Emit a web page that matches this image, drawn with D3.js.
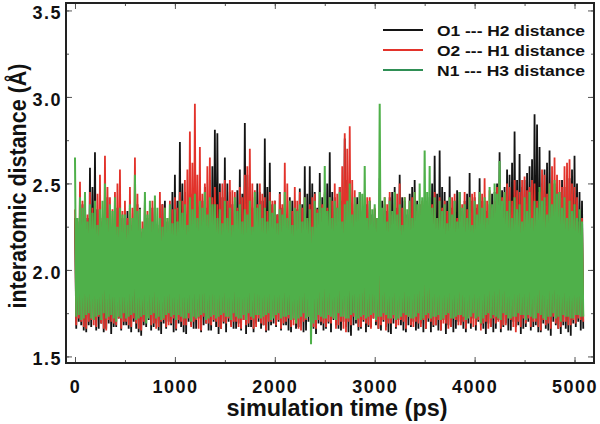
<!DOCTYPE html>
<html>
<head>
<meta charset="utf-8">
<script src="https://cdn.jsdelivr.net/npm/d3@7/dist/d3.min.js"></script>
<style>
  body { margin: 0; background: #fff; }
  text { font-family: "Liberation Sans", Arial, sans-serif; font-weight: bold; fill: #111; }
</style>
</head>
<body>
<svg id="chart" width="600" height="424"></svg>
<script>
// sampling interval of the trajectory (ps)
const step = 12.5;

const seriesNames = ["O1 --- H2 distance", "O2 --- H1 distance", "N1 --- H3 distance"];
const xTicks = [0, 1000, 2000, 3000, 4000, 5000];
const yTicks = [1.5, 2.0, 2.5, 3.0, 3.5];

// O1---H2 : local maxima / minima, one row per 500 ps
const o1h2Peaks = [
  2.30,2.22,2.35,2.38,2.45,2.30,2.59,2.48,2.68,2.35,2.40,2.28,2.35,2.42,2.28,2.25,2.33,2.36,2.38,2.30,
  2.25,2.34,2.40,2.26,2.30,2.38,2.36,2.22,2.42,2.30,2.28,2.36,2.35,2.24,2.30,2.38,2.40,2.28,2.32,2.45,
  2.55,2.40,2.74,2.50,2.45,2.32,2.38,2.44,2.42,2.28,2.35,2.40,2.48,2.36,2.52,2.60,2.81,2.79,2.50,2.42,
  2.65,2.50,2.45,2.38,2.40,2.46,2.58,2.44,2.85,2.55,2.48,2.36,2.42,2.50,2.45,2.40,2.76,2.48,2.62,2.38,
  2.40,2.32,2.45,2.36,2.38,2.28,2.42,2.40,2.40,2.35,2.47,2.38,2.60,2.44,2.60,2.50,2.45,2.36,2.56,2.42,
  2.44,2.50,2.68,2.45,2.42,2.36,2.48,2.40,2.76,2.52,2.40,2.34,2.38,2.42,2.45,2.30,2.36,2.38,2.40,2.32,
  2.35,2.30,2.53,2.40,2.38,2.34,2.42,2.45,2.48,2.36,2.55,2.42,2.40,2.32,2.44,2.48,2.52,2.40,2.38,2.30,
  2.36,2.32,2.42,2.50,2.66,2.44,2.69,2.48,2.45,2.40,2.54,2.36,2.40,2.46,2.45,2.34,2.40,2.44,2.56,2.40,
  2.42,2.36,2.53,2.40,2.40,2.34,2.38,2.44,2.45,2.50,2.68,2.46,2.48,2.58,2.55,2.62,2.80,2.52,2.67,2.48,
  2.52,2.56,2.60,2.64,2.90,2.84,2.71,2.50,2.58,2.62,2.69,2.46,2.50,2.40,2.45,2.52,2.48,2.44,2.53,2.58,
  2.66,2.50,2.45,2.40];
const o1h2Troughs = [
  1.66,1.70,1.68,1.65,1.64,1.68,1.67,1.71,1.65,1.66,1.69,1.64,1.66,1.69,1.63,1.67,1.67,1.72,1.65,1.68,
  1.68,1.66,1.64,1.70,1.66,1.64,1.62,1.68,1.67,1.71,1.65,1.67,1.69,1.65,1.63,1.69,1.66,1.70,1.68,1.64,
  1.65,1.69,1.67,1.64,1.63,1.70,1.68,1.66,1.66,1.72,1.64,1.68,1.69,1.65,1.65,1.70,1.67,1.63,1.66,1.69,
  1.64,1.70,1.68,1.66,1.66,1.69,1.65,1.71,1.63,1.67,1.67,1.64,1.69,1.70,1.66,1.68,1.64,1.65,1.68,1.69,
  1.67,1.70,1.65,1.68,1.68,1.65,1.64,1.71,1.66,1.67,1.69,1.64,1.65,1.70,1.67,1.66,1.63,1.69,1.68,1.65,
  1.66,1.69,1.64,1.71,1.68,1.66,1.65,1.70,1.67,1.64,1.62,1.68,1.69,1.65,1.66,1.70,1.64,1.67,1.67,1.72,
  1.68,1.66,1.65,1.70,1.67,1.64,1.63,1.69,1.66,1.71,1.68,1.65,1.64,1.68,1.67,1.70,1.65,1.66,1.69,1.64,
  1.66,1.70,1.64,1.67,1.68,1.65,1.65,1.71,1.63,1.68,1.67,1.64,1.66,1.70,1.69,1.66,1.64,1.69,1.66,1.72,
  1.65,1.70,1.68,1.66,1.63,1.69,1.67,1.64,1.66,1.71,1.64,1.67,1.69,1.65,1.65,1.70,1.67,1.68,1.63,1.66,
  1.67,1.70,1.65,1.67,1.68,1.64,1.64,1.69,1.66,1.65,1.62,1.70,1.68,1.66,1.63,1.68,1.66,1.64,1.62,1.69,
  1.67,1.70,1.65,1.66];

// O2---H1
const o2h1Peaks = [
  2.35,2.28,2.51,2.40,2.40,2.32,2.45,2.36,2.38,2.44,2.55,2.30,2.66,2.48,2.42,2.35,2.45,2.50,2.58,2.34,
  2.40,2.30,2.48,2.36,2.65,2.44,2.35,2.28,2.42,2.34,2.38,2.40,2.40,2.26,2.45,2.38,2.36,2.30,2.40,2.35,
  2.42,2.36,2.45,2.40,2.52,2.58,2.80,2.62,2.96,2.55,2.71,2.44,2.50,2.60,2.65,2.42,2.48,2.38,2.45,2.50,
  2.52,2.40,2.52,2.46,2.45,2.36,2.48,2.42,2.55,2.60,2.70,2.50,2.46,2.38,2.50,2.44,2.42,2.34,2.45,2.40,
  2.40,2.32,2.44,2.38,2.62,2.50,2.40,2.34,2.48,2.40,2.45,2.36,2.42,2.30,2.38,2.42,2.44,2.35,2.40,2.38,
  2.45,2.36,2.42,2.40,2.50,2.44,2.48,2.60,2.79,2.70,2.83,2.52,2.46,2.38,2.40,2.34,2.38,2.42,2.42,2.30,
  2.36,2.30,2.40,2.34,2.42,2.38,2.45,2.32,2.38,2.44,2.50,2.36,2.42,2.30,2.40,2.42,2.45,2.34,2.38,2.40,
  2.40,2.32,2.36,2.38,2.45,2.30,2.42,2.36,2.40,2.34,2.38,2.42,2.44,2.30,2.40,2.38,2.45,2.35,2.42,2.44,
  2.45,2.38,2.42,2.44,2.53,2.40,2.46,2.36,2.40,2.48,2.50,2.42,2.45,2.50,2.48,2.40,2.52,2.46,2.45,2.52,
  2.54,2.46,2.48,2.52,2.50,2.40,2.45,2.58,2.55,2.44,2.50,2.60,2.65,2.55,2.52,2.48,2.60,2.62,2.64,2.50,
  2.48,2.42,2.28,2.30];
const o2h1Troughs = [
  1.68,1.72,1.70,1.67,1.66,1.70,1.71,1.68,1.67,1.73,1.69,1.66,1.65,1.71,1.70,1.69,1.68,1.72,1.66,1.70,
  1.70,1.68,1.67,1.72,1.69,1.66,1.65,1.70,1.71,1.73,1.68,1.69,1.66,1.67,1.70,1.71,1.67,1.68,1.69,1.72,
  1.66,1.71,1.70,1.68,1.68,1.72,1.67,1.70,1.71,1.66,1.65,1.73,1.69,1.69,1.68,1.71,1.70,1.67,1.66,1.70,
  1.69,1.72,1.67,1.70,1.70,1.67,1.66,1.71,1.68,1.69,1.71,1.66,1.67,1.72,1.69,1.68,1.65,1.70,1.70,1.73,
  1.68,1.71,1.66,1.69,1.70,1.72,1.67,1.68,1.69,1.66,1.65,1.70,1.71,1.73,1.68,1.67,1.66,1.71,1.70,1.69,
  1.67,1.70,1.69,1.72,1.66,1.68,1.70,1.66,1.64,1.70,1.68,1.73,1.71,1.67,1.67,1.71,1.69,1.68,1.66,1.72,
  1.70,1.66,1.68,1.71,1.65,1.69,1.69,1.72,1.67,1.68,1.71,1.70,1.66,1.73,1.68,1.67,1.70,1.69,1.67,1.71,
  1.66,1.72,1.70,1.68,1.68,1.71,1.65,1.69,1.69,1.66,1.67,1.72,1.71,1.68,1.68,1.70,1.66,1.73,1.69,1.67,
  1.68,1.71,1.65,1.69,1.70,1.66,1.67,1.72,1.69,1.70,1.66,1.68,1.68,1.73,1.71,1.67,1.64,1.70,1.67,1.72,
  1.69,1.72,1.67,1.70,1.70,1.67,1.65,1.71,1.68,1.69,1.66,1.73,1.69,1.66,1.67,1.70,1.70,1.68,1.68,1.71,
  1.69,1.72,1.71,1.70];

// N1---H3
const n1h3Peaks = [
  2.65,2.30,2.42,2.36,2.45,2.28,2.38,2.33,2.40,2.26,2.35,2.40,2.50,2.30,2.38,2.34,2.42,2.25,2.36,2.32,
  2.32,2.26,2.38,2.30,2.55,2.34,2.35,2.24,2.45,2.32,2.40,2.28,2.43,2.36,2.30,2.25,2.36,2.30,2.38,2.27,
  2.35,2.28,2.40,2.33,2.38,2.26,2.42,2.35,2.44,2.30,2.40,2.36,2.45,2.32,2.42,2.38,2.38,2.30,2.35,2.27,
  2.40,2.30,2.36,2.26,2.42,2.34,2.38,2.28,2.35,2.32,2.40,2.25,2.45,2.36,2.38,2.30,2.36,2.28,2.40,2.33,
  2.38,2.27,2.35,2.32,2.45,2.30,2.40,2.26,2.36,2.34,2.38,2.28,2.42,2.30,2.35,2.25,2.40,2.33,2.45,2.36,
  2.60,2.34,2.42,2.30,2.40,2.36,2.45,2.28,2.38,2.40,2.50,2.32,2.42,2.38,2.45,2.44,2.60,2.30,2.40,2.35,
  2.38,2.30,2.96,2.36,2.42,2.28,2.40,2.34,2.45,2.32,2.38,2.26,2.42,2.35,2.40,2.30,2.45,2.38,2.50,2.42,
  2.69,2.45,2.60,2.36,2.42,2.30,2.40,2.34,2.38,2.27,2.42,2.32,2.40,2.28,2.45,2.36,2.38,2.30,2.42,2.26,
  2.40,2.32,2.45,2.36,2.42,2.30,2.48,2.38,2.50,2.44,2.63,2.40,2.45,2.34,2.40,2.30,2.42,2.35,2.38,2.28,
  2.42,2.34,2.45,2.30,2.40,2.36,2.48,2.40,2.42,2.32,2.50,2.38,2.52,2.44,2.45,2.36,2.42,2.30,2.40,2.34,
  2.38,2.30,2.35,2.28];
const n1h3Troughs = [
  1.73,1.74,1.71,1.72,1.74,1.75,1.72,1.71,1.73,1.74,1.71,1.75,1.72,1.73,1.74,1.72,1.70,1.73,1.72,1.75,
  1.72,1.73,1.74,1.75,1.71,1.72,1.73,1.74,1.69,1.72,1.74,1.75,1.72,1.73,1.71,1.72,1.74,1.75,1.73,1.74,
  1.71,1.74,1.73,1.72,1.72,1.75,1.70,1.73,1.72,1.73,1.74,1.75,1.71,1.72,1.73,1.74,1.72,1.73,1.74,1.75,
  1.73,1.73,1.71,1.75,1.73,1.72,1.72,1.74,1.71,1.75,1.73,1.72,1.74,1.74,1.72,1.73,1.74,1.75,1.71,1.72,
  1.74,1.75,1.72,1.73,1.73,1.74,1.71,1.72,1.69,1.72,1.73,1.75,1.72,1.73,1.57,1.69,1.71,1.74,1.73,1.72,
  1.72,1.74,1.73,1.72,1.71,1.75,1.73,1.73,1.72,1.72,1.74,1.75,1.71,1.72,1.73,1.74,1.72,1.73,1.74,1.75,
  1.71,1.73,1.73,1.75,1.74,1.72,1.72,1.74,1.71,1.72,1.73,1.75,1.74,1.73,1.72,1.72,1.73,1.75,1.71,1.72,
  1.74,1.75,1.72,1.73,1.73,1.74,1.71,1.72,1.74,1.75,1.72,1.72,1.73,1.74,1.74,1.73,1.71,1.72,1.73,1.75,
  1.72,1.73,1.69,1.72,1.74,1.75,1.72,1.74,1.73,1.72,1.71,1.75,1.74,1.72,1.72,1.73,1.73,1.75,1.74,1.74,
  1.71,1.74,1.73,1.72,1.72,1.75,1.74,1.72,1.71,1.73,1.73,1.75,1.72,1.73,1.70,1.74,1.73,1.73,1.72,1.72,
  1.74,1.74,1.73,1.73];

const colors = ["#141414", "#e2332b", "#4fb04a"];
const legendColors = ["#141414", "#e2332b", "#2f8f55"];

// alternate maxima and minima into one time series
function weave(peaks, troughs) {
  const out = [];
  peaks.forEach((v, i) => { out.push(v); if (i < troughs.length) out.push(troughs[i]); });
  return out.map((v, i) => ({ t: i * step, v: v }));
}

const series = [
  weave(o1h2Peaks, o1h2Troughs),
  weave(o2h1Peaks, o2h1Troughs),
  weave(n1h3Peaks, n1h3Troughs)
];

const box = { left: 66, right: 594, top: 3, bottom: 363 };
const svg = d3.select("#chart");

const xScale = d3.scaleLinear().domain([-90, 5195]).range([box.left, box.right]);
const yScale = d3.scaleLinear().domain([1.462, 3.543]).range([box.bottom, box.top]);

svg.append("clipPath").attr("id", "plotclip")
  .append("rect")
  .attr("x", box.left).attr("y", box.top)
  .attr("width", box.right - box.left).attr("height", box.bottom - box.top);

const line = d3.line().x(d => xScale(d.t)).y(d => yScale(d.v));

svg.append("g").attr("clip-path", "url(#plotclip)")
  .selectAll("path")
  .data(series)
  .enter().append("path")
  .attr("d", line)
  .attr("fill", "none")
  .attr("stroke", (d, i) => colors[i])
  .attr("stroke-width", (d, i) => i === 2 ? 2 : 1.8)
  .attr("stroke-linejoin", "bevel");

// ticks (inward) on all four sides
const xMinor = d3.range(0, 5001, 500);
const yMinor = d3.range(1.5, 3.51, 0.25);

function tickLines(g) {
  g.select(".domain").remove();
  g.selectAll("line").attr("stroke", "#555").attr("stroke-width", 1);
}

svg.append("g")
  .attr("transform", `translate(0,${box.bottom})`)
  .call(d3.axisBottom(xScale).tickValues(xMinor).tickSizeInner(-3).tickSizeOuter(0).tickFormat(""))
  .call(tickLines);
svg.append("g")
  .attr("transform", `translate(0,${box.top})`)
  .call(d3.axisTop(xScale).tickValues(xMinor).tickSizeInner(-3).tickSizeOuter(0).tickFormat(""))
  .call(tickLines);
svg.append("g")
  .attr("transform", `translate(${box.left},0)`)
  .call(d3.axisLeft(yScale).tickValues(yMinor).tickSizeInner(-3).tickSizeOuter(0).tickFormat(""))
  .call(tickLines);
svg.append("g")
  .attr("transform", `translate(${box.right},0)`)
  .call(d3.axisRight(yScale).tickValues(yMinor).tickSizeInner(-3).tickSizeOuter(0).tickFormat(""))
  .call(tickLines);

// major ticks with labels
const xAxis = svg.append("g")
  .attr("transform", `translate(0,${box.bottom})`)
  .call(d3.axisBottom(xScale).tickValues(xTicks).tickSizeInner(-6).tickSizeOuter(0).tickPadding(17).tickFormat(d3.format("d")))
  .call(tickLines);
svg.append("g")
  .attr("transform", `translate(0,${box.top})`)
  .call(d3.axisTop(xScale).tickValues(xTicks).tickSizeInner(-6).tickSizeOuter(0).tickFormat(""))
  .call(tickLines);
const yAxis = svg.append("g")
  .attr("transform", `translate(${box.left},0)`)
  .call(d3.axisLeft(yScale).tickValues(yTicks).tickSizeInner(-6).tickSizeOuter(0).tickPadding(4).tickFormat(d3.format(".1f")))
  .call(tickLines);
svg.append("g")
  .attr("transform", `translate(${box.right},0)`)
  .call(d3.axisRight(yScale).tickValues(yTicks).tickSizeInner(-6).tickSizeOuter(0).tickFormat(""))
  .call(tickLines);

xAxis.selectAll("text")
  .attr("font-family", "Liberation Sans, Arial, sans-serif")
  .attr("font-weight", "bold").attr("font-size", 18)
  .attr("letter-spacing", 1.5).attr("fill", "#111");
yAxis.selectAll("text")
  .attr("font-family", "Liberation Sans, Arial, sans-serif")
  .attr("font-weight", "bold").attr("font-size", 18)
  .attr("letter-spacing", 1.5).attr("fill", "#111")
  .attr("dy", "0.46em");

// frame
svg.append("rect")
  .attr("x", box.left).attr("y", box.top)
  .attr("width", box.right - box.left).attr("height", box.bottom - box.top)
  .attr("fill", "none").attr("stroke", "#222").attr("stroke-width", 2);

// axis titles
svg.append("text")
  .attr("x", 337).attr("y", 416)
  .attr("text-anchor", "middle")
  .attr("font-size", 23)
  .attr("textLength", 221).attr("lengthAdjust", "spacingAndGlyphs")
  .text("simulation time (ps)");

svg.append("text")
  .attr("transform", "translate(26,186) rotate(-90)")
  .attr("text-anchor", "middle")
  .attr("font-size", 23)
  .attr("textLength", 245).attr("lengthAdjust", "spacingAndGlyphs")
  .text("interatomic distance (Å)");

// legend
const legend = svg.append("g").attr("transform", "translate(383,30)");
seriesNames.forEach((name, i) => {
  legend.append("line")
    .attr("x1", 0).attr("x2", 40)
    .attr("y1", i * 20).attr("y2", i * 20)
    .attr("stroke", legendColors[i]).attr("stroke-width", 2);
  legend.append("text")
    .attr("x", 54).attr("y", i * 20 + 5.5)
    .attr("font-size", 15)
    .attr("textLength", 148).attr("lengthAdjust", "spacingAndGlyphs")
    .text(name);
});
</script>
</body>
</html>
